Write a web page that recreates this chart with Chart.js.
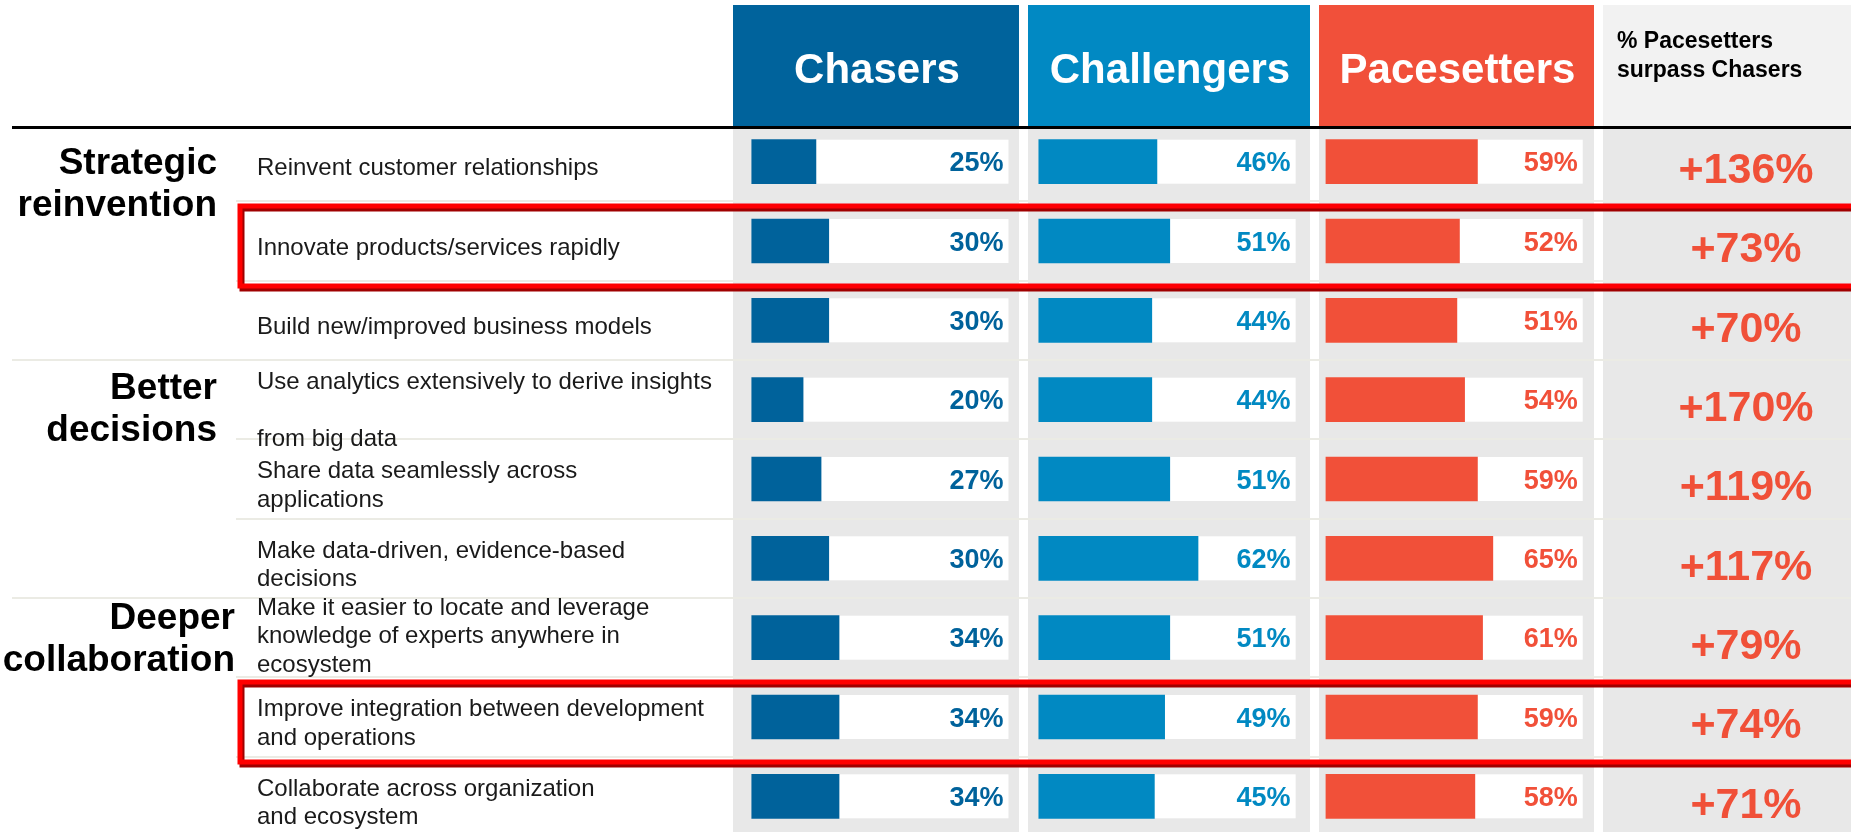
<!DOCTYPE html>
<html>
<head>
<meta charset="utf-8">
<title>Pacesetters vs Chasers</title>
<script src="https://cdn.jsdelivr.net/npm/chart.js@4.4.1/dist/chart.umd.min.js"></script>
<style>
  html, body { margin: 0; padding: 0; background: #fff; overflow: hidden; }
</style>
</head>
<body>
<canvas id="tableChart" width="1851" height="836"></canvas>
<script>
// Row labels, broken into lines the way the picture shows them
const categories = [
    'Reinvent customer relationships',
    'Innovate products/services rapidly',
    'Build new/improved business models',
    ['Use analytics extensively to derive insights', '', 'from big data'],
    ['Share data seamlessly across', 'applications'],
    ['Make data-driven, evidence-based', 'decisions'],
    ['Make it easier to locate and leverage', 'knowledge of experts anywhere in', 'ecosystem'],
    ['Improve integration between development', 'and operations'],
    ['Collaborate across organization', 'and ecosystem'],
];
const groupLabels = [['Strategic', 'reinvention'], ['Better', 'decisions'], ['Deeper', 'collaboration']];
const groupStarts = [0, 3, 6];

const seriesNames = ['Chasers', 'Challengers', 'Pacesetters'];
const chasers = [25, 30, 30, 20, 27, 30, 34, 34, 34];
const challengers = [46, 51, 44, 44, 51, 62, 51, 49, 45];
const pacesetters = [59, 52, 51, 54, 59, 65, 61, 59, 58];
const surpass = [136, 73, 70, 170, 119, 117, 79, 74, 71];
const surpassTitle = ['% Pacesetters', 'surpass Chasers'];
const highlightRows = [1, 7];

const seriesValues = [chasers, challengers, pacesetters];
const colAxes = ['xChasers', 'xChallengers', 'xPacesetters'];
const barColors = ['#00629b', '#0189c2', '#f15039'];
const headerColors = ['#00639c', '#0189c3', '#f1503a'];

// layout tweaks (pixels)
const FONT = "'Liberation Sans', Arial, Helvetica, sans-serif";
const HEADER_TOP = 5;
const HEADER_BOTTOM = 126;
const COL_GAP = 9;
const BAR_H = 44;
const labelShift = [5, 5, 5, 9, 5, 5, -3, 5, 5];
const groupShift = [20, 7, -1];
const groupRight = [217, 217, 235];

function rowY(chart, i) {
    return chart.scales.y.getPixelForValue(i);
}

// Table look: column backgrounds, tracks, headers
const tableBack = {
    id: 'tableBack',
    beforeDraw(chart) {
        const { ctx, width, height, scales } = chart;
        ctx.save();
        ctx.fillStyle = '#fff';
        ctx.fillRect(0, 0, width, height);

        // body columns
        ctx.fillStyle = '#e8e8e8';
        colAxes.forEach((id) => {
            const s = scales[id];
            ctx.fillRect(s.left, HEADER_BOTTOM, s.right - s.left - COL_GAP, height - HEADER_BOTTOM);
        });
        const sd = scales.xSurpass;
        ctx.fillRect(sd.left, HEADER_BOTTOM, sd.right - sd.left, height - HEADER_BOTTOM);

        // row separators
        ctx.strokeStyle = '#ebebe4';
        ctx.lineWidth = 2;
        for (let i = 1; i < categories.length; i++) {
            const yy = Math.round((rowY(chart, i - 1) + rowY(chart, i)) / 2);
            const x0 = groupStarts.includes(i) ? 12 : 236;
            ctx.beginPath();
            ctx.moveTo(x0, yy);
            ctx.lineTo(width, yy);
            ctx.stroke();
        }

        // white tracks 0..100%
        ctx.fillStyle = '#fff';
        colAxes.forEach((id) => {
            const s = scales[id];
            const x0 = s.getPixelForValue(0);
            const x1 = s.getPixelForValue(100);
            categories.forEach((_, i) => {
                ctx.fillRect(x0, rowY(chart, i) - BAR_H / 2, x1 - x0, BAR_H);
            });
        });

        // headers
        ctx.textBaseline = 'alphabetic';
        ctx.font = `bold 42px ${FONT}`;
        ctx.textAlign = 'center';
        colAxes.forEach((id, k) => {
            const s = scales[id];
            const w = s.right - s.left - COL_GAP;
            ctx.fillStyle = headerColors[k];
            ctx.fillRect(s.left, HEADER_TOP, w, HEADER_BOTTOM - HEADER_TOP);
            ctx.fillStyle = '#fff';
            ctx.fillText(seriesNames[k], s.left + w / 2 + 1, 83);
        });
        ctx.fillStyle = '#f2f2f2';
        ctx.fillRect(sd.left, HEADER_TOP, sd.right - sd.left, HEADER_BOTTOM - HEADER_TOP);
        ctx.fillStyle = '#000';
        ctx.font = `bold 23px ${FONT}`;
        ctx.textAlign = 'left';
        surpassTitle.forEach((t, j) => ctx.fillText(t, sd.left + 14, 48 + j * 29));

        // rule under the header
        ctx.fillStyle = '#000';
        ctx.fillRect(12, HEADER_BOTTOM, width - 12, 3);
        ctx.restore();
    },
    afterDatasetsDraw(chart) {
        const { ctx, width, scales } = chart;
        ctx.save();
        ctx.textBaseline = 'alphabetic';

        // value labels inside the tracks
        ctx.font = `bold 27px ${FONT}`;
        ctx.textAlign = 'right';
        seriesValues.forEach((vals, k) => {
            const s = scales[colAxes[k]];
            ctx.fillStyle = barColors[k];
            vals.forEach((v, i) => {
                ctx.fillText(v + '%', s.getPixelForValue(100) - 5, rowY(chart, i) + 0.358 * 27);
            });
        });

        // % surpass column
        const sd = scales.xSurpass;
        ctx.font = `bold 43px ${FONT}`;
        ctx.textAlign = 'center';
        ctx.fillStyle = '#f05038';
        surpass.forEach((v, i) => {
            ctx.fillText('+' + v + '%', sd.left + 143, rowY(chart, i) + 6 + 0.358 * 43);
        });

        // row labels
        ctx.font = `24px ${FONT}`;
        ctx.textAlign = 'left';
        ctx.fillStyle = '#1a1a1a';
        categories.forEach((lab, i) => {
            const lines = Array.isArray(lab) ? lab : [lab];
            const lh = 28.5;
            const first = rowY(chart, i) + labelShift[i] - (lines.length - 1) * lh / 2 + 0.358 * 24;
            lines.forEach((t, j) => ctx.fillText(t, 257, first + j * lh));
        });

        // group labels
        ctx.font = `bold 37px ${FONT}`;
        ctx.textAlign = 'right';
        ctx.fillStyle = '#000';
        groupLabels.forEach((lines, g) => {
            const lh = 42.3;
            const first = rowY(chart, groupStarts[g]) + groupShift[g] - (lines.length - 1) * lh / 2 + 0.358 * 37;
            lines.forEach((t, j) => ctx.fillText(t, groupRight[g], first + j * lh));
        });

        // red highlight boxes
        ctx.lineWidth = 5;
        highlightRows.forEach((i) => {
            const top = rowY(chart, i) + 5 - 40;
            const h = 80;
            ctx.strokeStyle = '#a00000';
            ctx.strokeRect(242, top + 3, width, h);
            ctx.strokeStyle = '#ff0000';
            ctx.strokeRect(240, top, width, h);
        });
        ctx.restore();
    },
};

const hiddenAxis = (weight, min, max) => ({
    type: 'linear',
    position: 'bottom',
    stack: 'cols',
    stackWeight: weight,
    min: min,
    max: max,
    display: false,
});

new Chart(document.getElementById('tableChart'), {
    type: 'bar',
    data: {
        labels: categories,
        datasets: seriesNames.map((name, k) => ({
            label: name,
            data: seriesValues[k],
            xAxisID: colAxes[k],
            backgroundColor: barColors[k],
            barThickness: BAR_H,
            grouped: false,
            borderWidth: 0,
        })),
    },
    options: {
        indexAxis: 'y',
        responsive: false,
        animation: false,
        layout: { padding: { left: 733, top: 122, right: 0, bottom: 0 } },
        plugins: {
            legend: { display: false },
            tooltip: { enabled: false },
        },
        scales: {
            y: { type: 'category', display: false },
            xChasers: hiddenAxis(295, -7.3, 107.6),
            xChallengers: hiddenAxis(291, -4.2, 109.1),
            xPacesetters: hiddenAxis(284, -2.7, 107.9),
            xSurpass: hiddenAxis(248, 0, 100),
        },
    },
    plugins: [tableBack],
});
</script>
</body>
</html>
